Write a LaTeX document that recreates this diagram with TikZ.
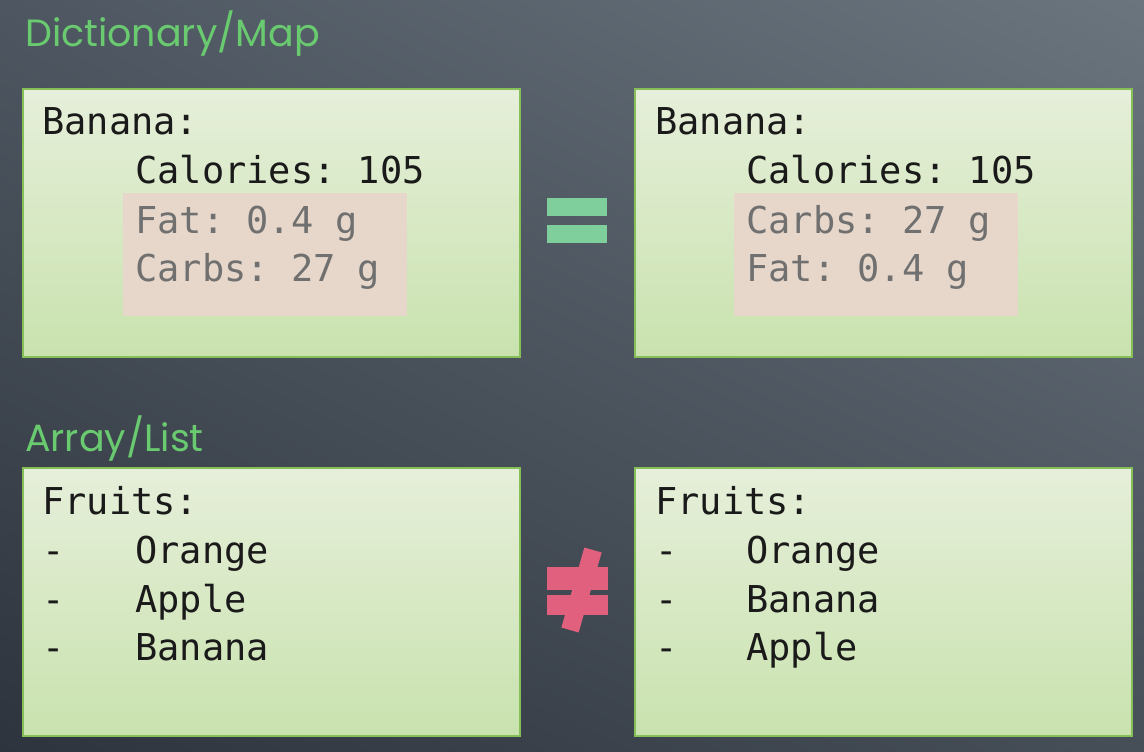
\documentclass[tikz,border=0pt]{standalone}
\usepackage{fontspec}
\usetikzlibrary{shadings}
\setmonofont{DejaVu Sans Mono}
\newfontfamily\titlefont{Poppins}
\definecolor{bgUL}{HTML}{4E5761}
\definecolor{bgUR}{HTML}{6A757E}
\definecolor{bgLL}{HTML}{2E343E}
\definecolor{bgLR}{HTML}{464E58}
\definecolor{boxtop}{HTML}{E6EFDA}
\definecolor{boxbot}{HTML}{C9E2AE}
\definecolor{boxedge}{HTML}{86BE58}
\definecolor{hlc}{HTML}{E6D7CA}
\definecolor{titlec}{HTML}{6ACA70}
\definecolor{eqc}{HTML}{7ECF9C}
\definecolor{neqc}{HTML}{E0607E}
\definecolor{graytxt}{HTML}{707070}
\definecolor{blacktxt}{HTML}{1A1A1A}
\tikzset{
  codebox/.style={draw=boxedge, line width=2pt, top color=boxtop, bottom color=boxbot,
    minimum width=497pt, minimum height=268pt, anchor=north west, inner sep=0pt},
  code/.style={anchor=base west, inner sep=0pt, font=\ttfamily\fontsize{37}{37}\selectfont, text=blacktxt},
  codegray/.style={code, text=graytxt},
  heading/.style={anchor=base west, inner sep=0pt, font=\titlefont\fontsize{38}{38}\selectfont, text=titlec},
}
\begin{document}
\begin{tikzpicture}[x=1pt,y=-1pt]
\useasboundingbox (0,0) rectangle (1144,752);
\shade[upper left=bgUL, upper right=bgUR, lower left=bgLL, lower right=bgLR] (0,0) rectangle (1144,752);

% headings
\node[heading] (h1) at (25,47) {Dictionary/Map};
\node[heading] (h2) at (25,451) {Array/List};

% boxes
\node[codebox] (b1) at (22,88) {};
\node[codebox] (b2) at (634,88) {};
\node[codebox] (b3) at (22,467) {};
\node[codebox] (b4) at (634,467) {};

% highlights
\fill[hlc] (123,193) rectangle (407,316);
\fill[hlc] (734,193) rectangle (1018,316);

% top-left text
\node[code] (t1a) at (42,135) {Banana:};
\node[code] (t1b) at (135,183) {Calories: 105};
\node[codegray] (t1c) at (135,233) {Fat: 0.4 g};
\node[codegray] (t1d) at (135,281) {Carbs: 27 g};

% top-right text
\node[code] (t2a) at (655,135) {Banana:};
\node[code] (t2b) at (746,183) {Calories: 105};
\node[codegray] (t2c) at (746,233) {Carbs: 27 g};
\node[codegray] (t2d) at (746,281) {Fat: 0.4 g};

% bottom-left text
\node[code] (t3a) at (42,514) {Fruits:};
\node[code] (t3b) at (42,563) {-};
\node[code] (t3c) at (135,563) {Orange};
\node[code] (t3d) at (42,612) {-};
\node[code] (t3e) at (135,612) {Apple};
\node[code] (t3f) at (42,660) {-};
\node[code] (t3g) at (135,660) {Banana};

% bottom-right text
\node[code] (t4a) at (655,514) {Fruits:};
\node[code] (t4b) at (655,563) {-};
\node[code] (t4c) at (746,563) {Orange};
\node[code] (t4d) at (655,612) {-};
\node[code] (t4e) at (746,612) {Banana};
\node[code] (t4f) at (655,660) {-};
\node[code] (t4g) at (746,660) {Apple};

% equal sign
\fill[eqc] (547,198) rectangle (607,216);
\fill[eqc] (547,225) rectangle (607,243);

% not-equal sign
\fill[neqc] (547,567) rectangle (608,590);
\fill[neqc] (547,595) rectangle (608,615);
\draw[neqc, line width=18pt] (593,550) -- (570,630);
\end{tikzpicture}
\end{document}
